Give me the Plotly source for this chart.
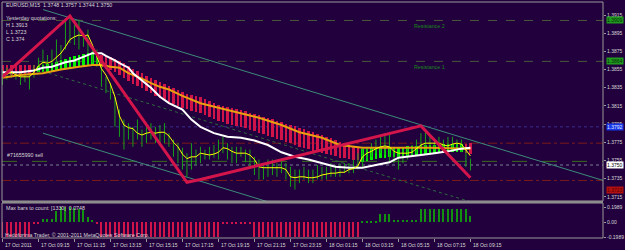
import plotly.graph_objects as go

# ---------------- data ----------------
bars = list(range(105))  # M15 bars, 17 Oct 07:15 -> 18 Oct 09:15

high = [1.3855,1.3857,1.3855,1.3852,1.3852,1.3850,1.3849,1.3860,1.3868,1.3877,
        1.3871,1.3877,1.3888,1.3882,1.3910,1.3913,1.3904,1.3910,1.3895,1.3899,
        1.3882,1.3877,1.3862,1.3847,1.3840,1.3825,1.3811,1.3800,1.3796,1.3792,
        1.3800,1.3789,1.3794,1.3796,1.3792,1.3794,1.3796,1.3785,1.3778,1.3774,
        1.3769,1.3763,1.3774,1.3767,1.3770,1.3767,1.3770,1.3772,1.3778,1.3781,
        1.3774,1.3770,1.3770,1.3770,1.3767,1.3767,1.3759,1.3756,1.3752,1.3756,
        1.3756,1.3752,1.3756,1.3752,1.3748,1.3745,1.3745,1.3748,1.3745,1.3745,
        1.3750,1.3748,1.3748,1.3752,1.3750,1.3752,1.3752,1.3752,1.3756,1.3763,
        1.3770,1.3770,1.3774,1.3778,1.3781,1.3785,1.3785,1.3767,1.3761,1.3767,
        1.3770,1.3772,1.3778,1.3785,1.3786,1.3781,1.3778,1.3781,1.3778,1.3781,
        1.3781,1.3778,1.3778,1.3770,1.3757]
low = [1.3838,1.3844,1.3846,1.3844,1.3838,1.3841,1.3833,1.3846,1.3852,1.3855,
       1.3857,1.3860,1.3858,1.3866,1.3877,1.3884,1.3882,1.3877,1.3880,1.3869,
       1.3862,1.3858,1.3836,1.3829,1.3822,1.3792,1.3781,1.3767,1.3778,1.3770,
       1.3778,1.3770,1.3774,1.3778,1.3774,1.3774,1.3774,1.3770,1.3759,1.3752,
       1.3745,1.3737,1.3745,1.3750,1.3752,1.3756,1.3756,1.3758,1.3756,1.3763,
       1.3756,1.3752,1.3752,1.3759,1.3753,1.3748,1.3739,1.3734,1.3734,1.3737,
       1.3739,1.3737,1.3741,1.3734,1.3726,1.3723,1.3730,1.3734,1.3730,1.3730,
       1.3734,1.3734,1.3734,1.3737,1.3737,1.3737,1.3741,1.3741,1.3741,1.3745,
       1.3748,1.3756,1.3759,1.3763,1.3763,1.3761,1.3752,1.3752,1.3745,1.3752,
       1.3756,1.3759,1.3763,1.3767,1.3767,1.3767,1.3767,1.3767,1.3764,1.3767,
       1.3767,1.3767,1.3764,1.3748,1.3744]

fast_ma = [1.3847,1.3850,1.3852,1.3849,1.3847,1.3847,1.3847,1.3852,1.3859,1.3863,
           1.3862,1.3864,1.3869,1.3873,1.3880,1.3888,1.3891,1.3893,1.3892,1.3893,
           1.3882,1.3870,1.3856,1.3849,1.3839,1.3825,1.3804,1.3794,1.3791,1.3790,
           1.3785,1.3783,1.3785,1.3786,1.3785,1.3786,1.3786,1.3782,1.3775,1.3770,
           1.3762,1.3757,1.3759,1.3759,1.3763,1.3762,1.3761,1.3762,1.3764,1.3769,
           1.3768,1.3765,1.3763,1.3763,1.3763,1.3761,1.3756,1.3748,1.3747,1.3747,
           1.3747,1.3747,1.3747,1.3745,1.3737,1.3736,1.3737,1.3737,1.3736,1.3736,
           1.3737,1.3739,1.3740,1.3741,1.3741,1.3742,1.3742,1.3745,1.3746,1.3749,
           1.3759,1.3763,1.3765,1.3768,1.3770,1.3771,1.3770,1.3765,1.3763,1.3763,
           1.3763,1.3764,1.3768,1.3772,1.3774,1.3774,1.3774,1.3774,1.3772,1.3771,
           1.3773,1.3774,1.3773,1.3767,1.3760]

mid_ma_bars = [0,4,7,9,11,14,16,18,20,22,23,25,26,28,29,31,33,35,37,40,42,44,47,50,
               53,56,59,62,65,68,71,74,77,80,83,86,88,90,93,96,99,102,104]
mid_ma = [1.3852,1.3852,1.3854,1.3857,1.3858,1.3863,1.3865,1.3869,1.3873,1.3873,
          1.3870,1.3865,1.3862,1.3857,1.3851,1.3843,1.3835,1.3825,1.3818,1.3811,
          1.3800,1.3792,1.3785,1.3781,1.3780,1.3777,1.3772,1.3764,1.3759,1.3756,
          1.3752,1.3748,1.3747,1.3747,1.3750,1.3753,1.3758,1.3759,1.3761,1.3763,
          1.3765,1.3768,1.3769]

slow_ma_bars = [0,4,9,13,17,20,22,24,26,28,31,33,35,37,40,44,48,53,57,62,66,71,75,80,87,95,104]
slow_ma = [1.3846,1.3849,1.3851,1.3855,1.3858,1.3860,1.3860,1.3858,1.3857,1.3851,
           1.3845,1.3840,1.3836,1.3833,1.3826,1.3818,1.3813,1.3807,1.3802,1.3794,
           1.3786,1.3780,1.3772,1.3769,1.3769,1.3769,1.3768]

band_top = [1.3860]*8 + [
    1.3859,1.3860,1.3861,1.3862,1.3863,1.3866,1.3867,1.3869,1.3870,1.3871,1.3872,1.3873,1.3874,1.3873,
    1.3871,1.3870,1.3869,1.3867,1.3864,1.3862,1.3859,1.3856,1.3853,1.3851,
    1.3848,1.3846,1.3844,1.3841,1.3839,1.3837,1.3835,1.3833,1.3830,1.3828,
    1.3827,1.3826,1.3825,1.3823,1.3820,1.3818,1.3816,1.3815,1.3814,1.3813,
    1.3812,1.3811,1.3809,1.3807,1.3806,1.3805,1.3803,1.3802,1.3801,1.3798,
    1.3797,1.3795,1.3794,1.3793,1.3791,1.3790,1.3787,1.3786,1.3784,1.3783,
    1.3781,1.3780,1.3778,1.3775,1.3774,1.3772,1.3771,1.3770,
    1.3768,1.3768,1.3769,1.3769,1.3770,1.3770,1.3770,1.3770,1.3770,1.3770,
    1.3771,1.3771,1.3771,1.3772,1.3772,1.3772,1.3772,1.3772,1.3773,1.3773,
    1.3773,1.3773,1.3773,1.3773,1.3774]
band_bottom = [1.3849]*8 + [
    1.3852,1.3852,1.3852,1.3853,1.3853,1.3855,1.3856,1.3857,1.3857,1.3858,1.3858,1.3859,1.3860,1.3861,
    1.3858,1.3857,1.3855,1.3852,1.3849,1.3846,1.3842,1.3839,1.3837,1.3835,
    1.3831,1.3829,1.3826,1.3824,1.3822,1.3819,1.3817,1.3815,1.3813,1.3812,
    1.3809,1.3808,1.3807,1.3805,1.3803,1.3801,1.3798,1.3797,1.3795,1.3794,
    1.3793,1.3792,1.3791,1.3789,1.3787,1.3785,1.3784,1.3782,1.3781,1.3779,
    1.3778,1.3775,1.3774,1.3772,1.3770,1.3769,1.3768,1.3765,1.3764,1.3763,
    1.3762,1.3761,1.3760,1.3758,1.3758,1.3757,1.3756,1.3756,
    1.3753,1.3754,1.3756,1.3757,1.3758,1.3758,1.3759,1.3759,1.3759,1.3760,
    1.3760,1.3761,1.3761,1.3762,1.3762,1.3763,1.3763,1.3763,1.3764,1.3764,
    1.3764,1.3764,1.3764,1.3763,1.3762]
band_trend = [-1]*8 + [1]*14 + [-1]*58 + [1]*23 + [-1]*2

zigzag_bars = [0, 15, 41, 44, 93, 104]
zigzag = [1.3847, 1.3914, 1.3731, 1.3734, 1.3793, 1.3736]

channel_bars = [9, 133.5]
channel_upper = [1.3921, 1.3733]
channel_mid = [1.3853, 1.3665]
channel_lower = [1.3785, 1.3597]

levels = [1.3909, 1.3864, 1.3792, 1.3774, 1.3754, 1.3750, 1.3733]
level_names = ["Resistance 2", "Resistance 1", "", "", "#71655990 sell", "", ""]

hist = ([-0.1989]*7 + [-0.02]*2 + [0.04]*3 +
        [0.14,0.20,0.20,0.20,0.18,0.17,0.16,0.07,0.03] + [-0.03] +
        [-0.1989]*27 + [-0.02]*7 + [-0.1989]*24 +
        [0.02]*4 + [0.11]*3 + [0.03]*6 + [0.17]*11 + [0.08])

price_ticks = [1.3915,1.3895,1.3875,1.3855,1.3835,1.3815,1.3795,1.3775,1.3755,1.3735,1.3715]
hist_ticks = [0.1989, 0.0, -0.1989]
hist_tick_text = ["0.1989", "0.00", "-0.1989"]

time_tick_bars = [0,8,16,24,32,40,48,56,64,72,80,88,96,104]
time_tick_text = ["17 Oct 2011","17 Oct 09:15","17 Oct 11:15","17 Oct 13:15","17 Oct 15:15",
                  "17 Oct 17:15","17 Oct 19:15","17 Oct 21:15","17 Oct 23:15","18 Oct 01:15",
                  "18 Oct 03:15","18 Oct 05:15","18 Oct 07:15","18 Oct 09:15"]

price_boxes = [1.3909, 1.3864, 1.3792, 1.3750, 1.3722]
price_box_text = ["1.3909", "1.3864", "1.3792", "1.3750", "1.3723"]

info_lines = ["EURUSD,M15  1.3748 1.3757 1.3744 1.3750",
              "Yesterday quotations:", "H 1.3913", "L 1.3723", "C 1.374"]
sub_title = "Max bars to count: [1330]  0.0748"
copyright_text = "Hedoforima Trader, \u00a9 2001-2011 MetaQuotes Software Corp."

# ---------------- styling ----------------
BG = "#21003d"
FONT = "Liberation Sans"
TXT = "#d8d8d8"
FS = 5.3
W, H = 625, 250
ML, MR, MT, MB = 2, 22, 2, 12
PW, PH = W - ML - MR, H - MT - MB

def py(ypix):  # pixel row -> paper fraction
    return (H - MB - ypix) / PH

def pxx(xpix):
    return (xpix - ML) / PW

MAIN_DOM = [py(201), 1]
SUB_DOM = [0, py(203)]

fig = go.Figure()

# channel
ch_styles = [(channel_upper, "#3d8b7a", "solid"), (channel_mid, "#2f6a3f", "dot"),
             (channel_lower, "#3d8b7a", "solid")]
for vals, col, dash in ch_styles:
    fig.add_trace(go.Scatter(x=channel_bars, y=vals, mode="lines",
                             line=dict(color=col, width=1, dash=dash),
                             xaxis="x", yaxis="y", hoverinfo="skip"))

# candles (high-low bars)
cx, cy = [], []
for k, lo, hi in zip(bars, low, high):
    cx += [k, k, None]
    cy += [lo, hi, None]
fig.add_trace(go.Scatter(x=cx, y=cy, mode="lines", line=dict(color="#18a018", width=1),
                         xaxis="x", yaxis="y", hoverinfo="skip"))

# trend band
fig.add_trace(go.Bar(x=bars, y=[t - b for t, b in zip(band_top, band_bottom)], base=band_bottom,
                     width=0.6, marker=dict(color=["#00f000" if t > 0 else "#d0144a" for t in band_trend],
                                            line=dict(width=0)),
                     xaxis="x", yaxis="y", hoverinfo="skip"))

# moving averages
fig.add_trace(go.Scatter(x=slow_ma_bars, y=slow_ma, mode="lines", line=dict(color="#e8a010", width=2),
                         xaxis="x", yaxis="y", hoverinfo="skip"))
fig.add_trace(go.Scatter(x=mid_ma_bars, y=mid_ma, mode="lines", line=dict(color="#ffffff", width=2),
                         xaxis="x", yaxis="y", hoverinfo="skip"))
fig.add_trace(go.Scatter(x=bars, y=fast_ma, mode="lines", line=dict(color="#ffff00", width=1),
                         xaxis="x", yaxis="y", hoverinfo="skip"))

# zigzag
fig.add_trace(go.Scatter(x=zigzag_bars, y=zigzag, mode="lines", line=dict(color="#d3154b", width=3),
                         xaxis="x", yaxis="y", hoverinfo="skip"))

# histogram sub window
fig.add_trace(go.Bar(x=bars, y=hist, width=0.45,
                     marker=dict(color=["#12900f" if v > 0 else "#d0144a" for v in hist],
                                 line=dict(width=0)),
                     xaxis="x", yaxis="y2", hoverinfo="skip"))

shapes = []
level_styles = [("#4b5a3a", "dash"), ("#4b5a3a", "dash"), ("#3a2e90", "dot"), ("#7a1a1a", "dashdot"),
                ("#3c6e1e", "longdash"), ("#7c7c98", "dot"), ("#7a1a1a", "dashdot")]
for lv, (col, dash) in zip(levels, level_styles):
    shapes.append(dict(type="line", xref="paper", yref="y", x0=0, x1=1, y0=lv, y1=lv,
                       line=dict(color=col, width=1, dash=dash), layer="below"))
# panel frames and separator
shapes.append(dict(type="rect", xref="paper", yref="paper", x0=0, x1=1, y0=MAIN_DOM[0], y1=1,
                   line=dict(color="#9a9a9a", width=1)))
shapes.append(dict(type="rect", xref="paper", yref="paper", x0=0, x1=1, y0=0, y1=SUB_DOM[1],
                   line=dict(color="#9a9a9a", width=1)))
shapes.append(dict(type="rect", xref="paper", yref="paper", x0=0, x1=1, y0=SUB_DOM[1], y1=MAIN_DOM[0],
                   fillcolor="#8c8c8c", line=dict(width=0)))

ann = []
# info text, top-left
for i, t in enumerate(info_lines):
    ypix = 5 if i == 0 else 18 + 7 * (i - 1)
    ann.append(dict(text=t, xref="paper", yref="paper", x=pxx(4), y=py(ypix), xanchor="left",
                    yanchor="middle", showarrow=False, font=dict(family=FONT, size=FS, color=TXT)))
# level labels
for lv, name in zip(levels, level_names):
    if not name:
        continue
    if name.startswith("#"):
        ann.append(dict(text=name, xref="paper", yref="y", x=pxx(5), y=lv, xanchor="left",
                        yanchor="bottom", yshift=1, showarrow=False,
                        font=dict(family=FONT, size=FS, color=TXT)))
    else:
        ann.append(dict(text=name, xref="paper", yref="y", x=pxx(412), y=lv, xanchor="left",
                        yanchor="top", yshift=-1, showarrow=False,
                        font=dict(family=FONT, size=FS, color="#1a8a1a")))
# price boxes on the scale
box_styles = [("#1f9a1f", "#062a06"), ("#1f9a1f", "#062a06"), ("#1838e8", "#e0e8ff"),
              ("#ffffff", "#000000"), ("#b01010", "#5a0000")]
for p, t, (bg, fc) in zip(price_boxes, price_box_text, box_styles):
    ann.append(dict(text=t, xref="paper", yref="y", x=1, y=p, xanchor="left", yanchor="middle",
                    xshift=3, showarrow=False, bgcolor=bg, borderpad=0,
                    font=dict(family=FONT, size=5, color=fc)))
# time labels
for k, t in zip(time_tick_bars, time_tick_text):
    ann.append(dict(text=t, xref="x", yref="paper", x=k, y=0, xanchor="left", yanchor="top",
                    xshift=1, yshift=-2, showarrow=False, font=dict(family=FONT, size=5, color=TXT)))
# sub window texts
ann.append(dict(text=sub_title, xref="paper", yref="paper", x=pxx(4), y=py(208), xanchor="left",
                yanchor="middle", showarrow=False, font=dict(family=FONT, size=FS, color=TXT)))
ann.append(dict(text=copyright_text, xref="paper", yref="paper", x=pxx(3), y=py(235), xanchor="left",
                yanchor="middle", showarrow=False, font=dict(family=FONT, size=FS, color=TXT)))

fig.update_layout(
    width=W, height=H, margin=dict(l=ML, r=MR, t=MT, b=MB),
    paper_bgcolor=BG, plot_bgcolor=BG, showlegend=False, barmode="overlay", bargap=0,
    shapes=shapes, annotations=ann,
    xaxis=dict(domain=[0, 1], range=[-0.1, 133.46], anchor="y2", showgrid=False, zeroline=False,
               tickvals=time_tick_bars, showticklabels=False, ticks="outside", ticklen=3,
               tickcolor="#9a9a9a", showline=False, fixedrange=True),
    yaxis=dict(domain=MAIN_DOM, range=[1.37104, 1.39293], side="right", anchor="x",
               tickvals=price_ticks, ticktext=[f"{v:.4f}" for v in price_ticks],
               ticks="outside", ticklen=2, tickcolor="#9a9a9a", showgrid=False, zeroline=False,
               tickfont=dict(family=FONT, size=5, color=TXT), automargin=False),
    yaxis2=dict(domain=SUB_DOM, range=[-0.212, 0.252], side="right", anchor="x",
                tickvals=hist_ticks, ticktext=hist_tick_text, ticks="outside", ticklen=2,
                tickcolor="#9a9a9a", showgrid=False, zeroline=False,
                tickfont=dict(family=FONT, size=5, color=TXT), automargin=False),
)

fig.write_html("out.html")
